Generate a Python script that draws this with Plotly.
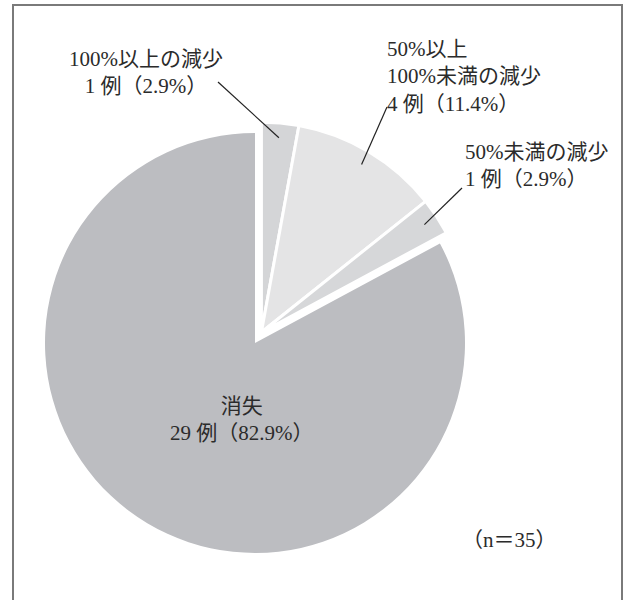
import math
import plotly.graph_objects as go

# ---- data -----------------------------------------------------------------
categories = ["100%以上の減少", "50%以上<br>100%未満の減少", "50%未満の減少", "消失"]
counts = [1, 4, 1, 29]
percents = [2.9, 11.4, 2.9, 82.9]
n_total = 35

# ---- layout constants (pixels) ---------------------------------------------
W, H = 625, 600
CX, CY, R = 255, 343, 210          # pie centre and radius
EXPLODE_PX = 12.5                  # offset of the group of small slices
FONT = "Liberation Serif, Noto Sans CJK JP, serif"
TXT = "#2b2b2b"

fill = ["#d4d5d7", "#e4e4e5", "#d6d7d9", "#bcbdc1"]
CLEAR = "rgba(0,0,0,0)"
is_main = [c == "消失" for c in categories]


def domain_for(cx, cy, r):
    return dict(x=[(cx - r) / W, (cx + r) / W],
                y=[1 - (cy + r) / H, 1 - (cy - r) / H])


total = sum(counts)
# the small slices are exploded together along the bisector of their span
small_span = sum(v for v, m in zip(counts, is_main) if not m) / total * 360
bis = math.radians(small_span / 2)
GX = CX + EXPLODE_PX * math.sin(bis)
GY = CY - EXPLODE_PX * math.cos(bis)

common = dict(labels=categories, values=counts, sort=False, direction="clockwise",
              rotation=0, textinfo="none", hoverinfo="skip", showlegend=False)

fig = go.Figure()
fig.add_trace(go.Pie(
    **common,
    domain=domain_for(CX, CY, R),
    marker=dict(colors=[fill[i] if is_main[i] else CLEAR for i in range(4)],
                line=dict(color="white", width=[0] * 4)),
))
fig.add_trace(go.Pie(
    **common,
    domain=domain_for(GX, GY, R),
    marker=dict(colors=[CLEAR if is_main[i] else fill[i] for i in range(4)],
                line=dict(color="white",
                          width=[0 if is_main[i] else 3 for i in range(4)])),
))

# ---- labels and leader lines -------------------------------------------------
def px(x, y):
    return x / W, 1 - y / H


def slice_point(i, frac):
    before = sum(counts[:i])
    ang = math.radians((before + counts[i] / 2) / total * 360)
    cx, cy = (CX, CY) if is_main[i] else (GX, GY)
    return cx + frac * R * math.sin(ang), cy - frac * R * math.cos(ang)


def label_text(i):
    return f"{categories[i]}<br>{counts[i]} 例（{percents[i]}%）"


# (text x, text y, xanchor, align, leader start) per slice
placements = [
    (146, 72, "center", "center", (218, 82)),
    (385, 76, "left", "left", (387, 107)),
    (463, 166, "left", "left", (462, 188)),
    (242, 419, "center", "center", None),
]

annotations = []
shapes = []
for i, (tx, ty, xa, al, lead) in enumerate(placements):
    x, y = px(tx, ty)
    annotations.append(dict(x=x, y=y, xref="paper", yref="paper", text=label_text(i),
                            showarrow=False, xanchor=xa, yanchor="middle", align=al,
                            font=dict(family=FONT, size=21, color=TXT)))
    if lead is not None:
        ex, ey = slice_point(i, 0.93)
        x0, y0 = px(*lead)
        x1, y1 = px(ex, ey)
        shapes.append(dict(type="line", xref="paper", yref="paper",
                           x0=x0, y0=y0, x1=x1, y1=y1,
                           line=dict(color="#222222", width=1.2)))

nx, ny = px(509, 540)
annotations.append(dict(x=nx, y=ny, xref="paper", yref="paper",
                        text=f"（n＝{n_total}）", showarrow=False,
                        xanchor="center", yanchor="middle",
                        font=dict(family=FONT, size=21, color=TXT)))

# frame around the chart
fx0, fy0 = px(13, 5)
fx1, fy1 = px(622, 640)
shapes.append(dict(type="rect", xref="paper", yref="paper",
                   x0=fx0, y0=fy1, x1=fx1, y1=fy0,
                   line=dict(color="#7a7a7a", width=2), fillcolor=CLEAR))

fig.update_layout(width=W, height=H, margin=dict(l=0, r=0, t=0, b=0),
                  paper_bgcolor="white", plot_bgcolor="white",
                  annotations=annotations, shapes=shapes)

fig.write_html("out.html")
